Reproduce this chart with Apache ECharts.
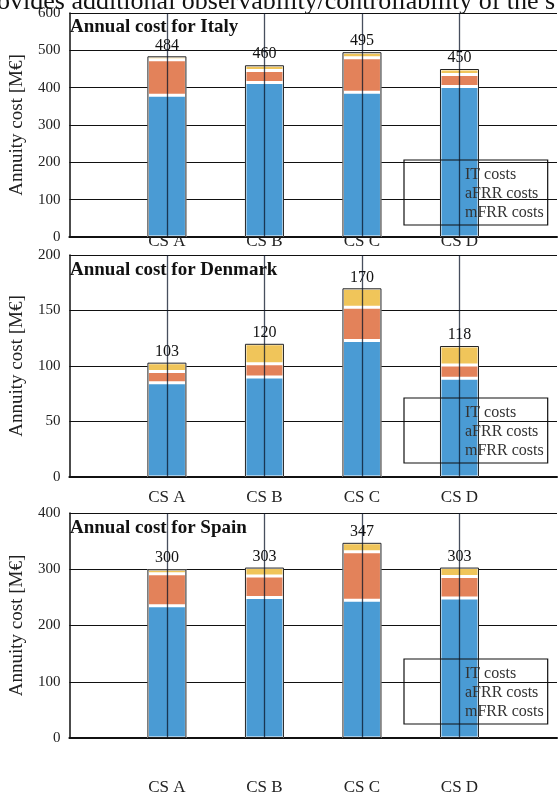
<!DOCTYPE html>
<html>
<head>
<meta charset="utf-8">
<script src="https://cdn.jsdelivr.net/npm/echarts@6/dist/echarts.min.js"></script>
<style>
  html, body { margin: 0; padding: 0; background: #fff; }
  #main { width: 560px; height: 796px; }
</style>
</head>
<body>
<div id="main"></div>
<script>
  // categories; the axis has an empty slot on each side so CS A..D sit at 1..4
  const categories = ['CS A', 'CS B', 'CS C', 'CS D']
  const axisSlots = [''].concat(categories).concat([''])
  const legendNames = ['IT costs', 'aFRR costs', 'mFRR costs']

  // Italy [M€]
  const italyMfrr = [380, 414, 388, 403]
  const italyAfrr = [95, 32, 92, 32]
  const italyIt = [9, 14, 15, 15]
  // Denmark [M€]
  const denmarkMfrr = [85, 90, 123, 89]
  const denmarkAfrr = [10, 12, 30, 12]
  const denmarkIt = [8, 18, 17, 17]
  // Spain [M€]
  const spainMfrr = [235, 250, 245, 249]
  const spainAfrr = [57, 38, 86, 38]
  const spainIt = [8, 15, 16, 16]

  const panelTitles = ['Annual cost for Italy', 'Annual cost for Denmark', 'Annual cost for Spain']
  const yMax = [600, 200, 400]
  const yStep = [100, 50, 100]

  const serif = 'Liberation Serif'
  const colors = {mfrr: '#4a9bd4', afrr: '#e3825a', it: '#f0c55a'}

  const panels = [
    {mfrr: italyMfrr, afrr: italyAfrr, it: italyIt},
    {mfrr: denmarkMfrr, afrr: denmarkAfrr, it: denmarkIt},
    {mfrr: spainMfrr, afrr: spainAfrr, it: spainIt}
  ]

  const grids = [
    {left: 63, right: 0, top: 13, height: 224},
    {left: 63, right: 0, top: 255, height: 222},
    {left: 63, right: 0, top: 513, height: 225}
  ]
  const labelMargin = [-4, 12, 41]
  const titleTop = [18, 261, 519]
  const legendTop = [160, 398, 659]

  let xAxes = [], yAxes = [], series = [], titles = [], legends = []

  panels.forEach((p, i) => {
    xAxes.push({
      type: 'category', gridIndex: i, data: axisSlots, boundaryGap: false,
      axisLine: {show: true, onZero: false, lineStyle: {color: '#111', width: 2}},
      axisTick: {show: false},
      splitLine: {show: false},
      axisLabel: {interval: 0, margin: labelMargin[i], color: '#222', fontFamily: serif, fontSize: 17}
    })
    yAxes.push({
      type: 'value', gridIndex: i, min: 0, max: yMax[i], interval: yStep[i],
      name: 'Annuity cost [M€]', nameLocation: 'middle', nameGap: 38,
      nameTextStyle: {color: '#222', fontFamily: serif, fontSize: 19},
      axisLine: {show: true, lineStyle: {color: '#111', width: 1.5}},
      axisTick: {show: false},
      axisLabel: {color: '#222', fontFamily: serif, fontSize: 15, margin: 9},
      splitLine: {show: true, lineStyle: {color: '#111', width: 1}}
    })
    titles.push({
      text: panelTitles[i], left: 70, top: titleTop[i], padding: 0,
      textStyle: {fontFamily: serif, fontWeight: 'bold', fontSize: 19, color: '#111'}
    })
    legends.push({
      data: legendNames, orient: 'vertical', left: 404, top: legendTop[i],
      icon: 'none', itemWidth: 51, itemHeight: 16, itemGap: 3,
      padding: [7, 4, 4, 5], borderColor: '#111', borderWidth: 1.2,
      textStyle: {fontFamily: serif, fontSize: 16, color: '#333'},
      selectedMode: false
    })

    const totals = p.mfrr.map((v, k) => v + p.afrr[k] + p.it[k])
    const seg = (name, arr, color) => ({
      name: name, type: 'bar', stack: 'cost' + i, xAxisIndex: i, yAxisIndex: i,
      barWidth: 39, barGap: '-100%',
      itemStyle: {color: color, borderColor: '#fff', borderWidth: 1.5},
      data: arr.map((v, k) => [categories[k], v])
    })
    series.push(seg('mFRR costs', p.mfrr, colors.mfrr))
    series.push(seg('aFRR costs', p.afrr, colors.afrr))
    series.push(seg('IT costs', p.it, colors.it))
    // thin outline at the total height, with the total printed above
    series.push({
      type: 'bar', xAxisIndex: i, yAxisIndex: i, barWidth: 39, barGap: '-100%',
      z: 3, silent: true,
      itemStyle: {color: 'rgba(0,0,0,0)', borderColor: '#222', borderWidth: 1},
      label: {
        show: true, position: 'top', distance: 3, color: '#111',
        fontFamily: serif, fontSize: 16,
        formatter: d => String(totals[d.dataIndex])
      },
      markLine: {
        silent: true, symbol: 'none', label: {show: false},
        lineStyle: {color: 'rgba(10,20,40,0.75)', width: 1.3, type: 'solid'},
        data: categories.map(c => ({xAxis: c}))
      },
      data: totals.map((v, k) => [categories[k], v])
    })
  })

  const chart = echarts.init(document.getElementById('main'))
  chart.setOption({
    animation: false,
    backgroundColor: '#fff',
    title: titles,
    legend: legends,
    grid: grids,
    xAxis: xAxes,
    yAxis: yAxes,
    series: series,
    graphic: [{
      type: 'text', left: -3, top: -11, z: 10,
      style: {text: 'ovides additional observability/controllability of the s',
        font: '26px "Liberation Serif"', fill: '#111'}
    }]
  })
</script>
</body>
</html>
